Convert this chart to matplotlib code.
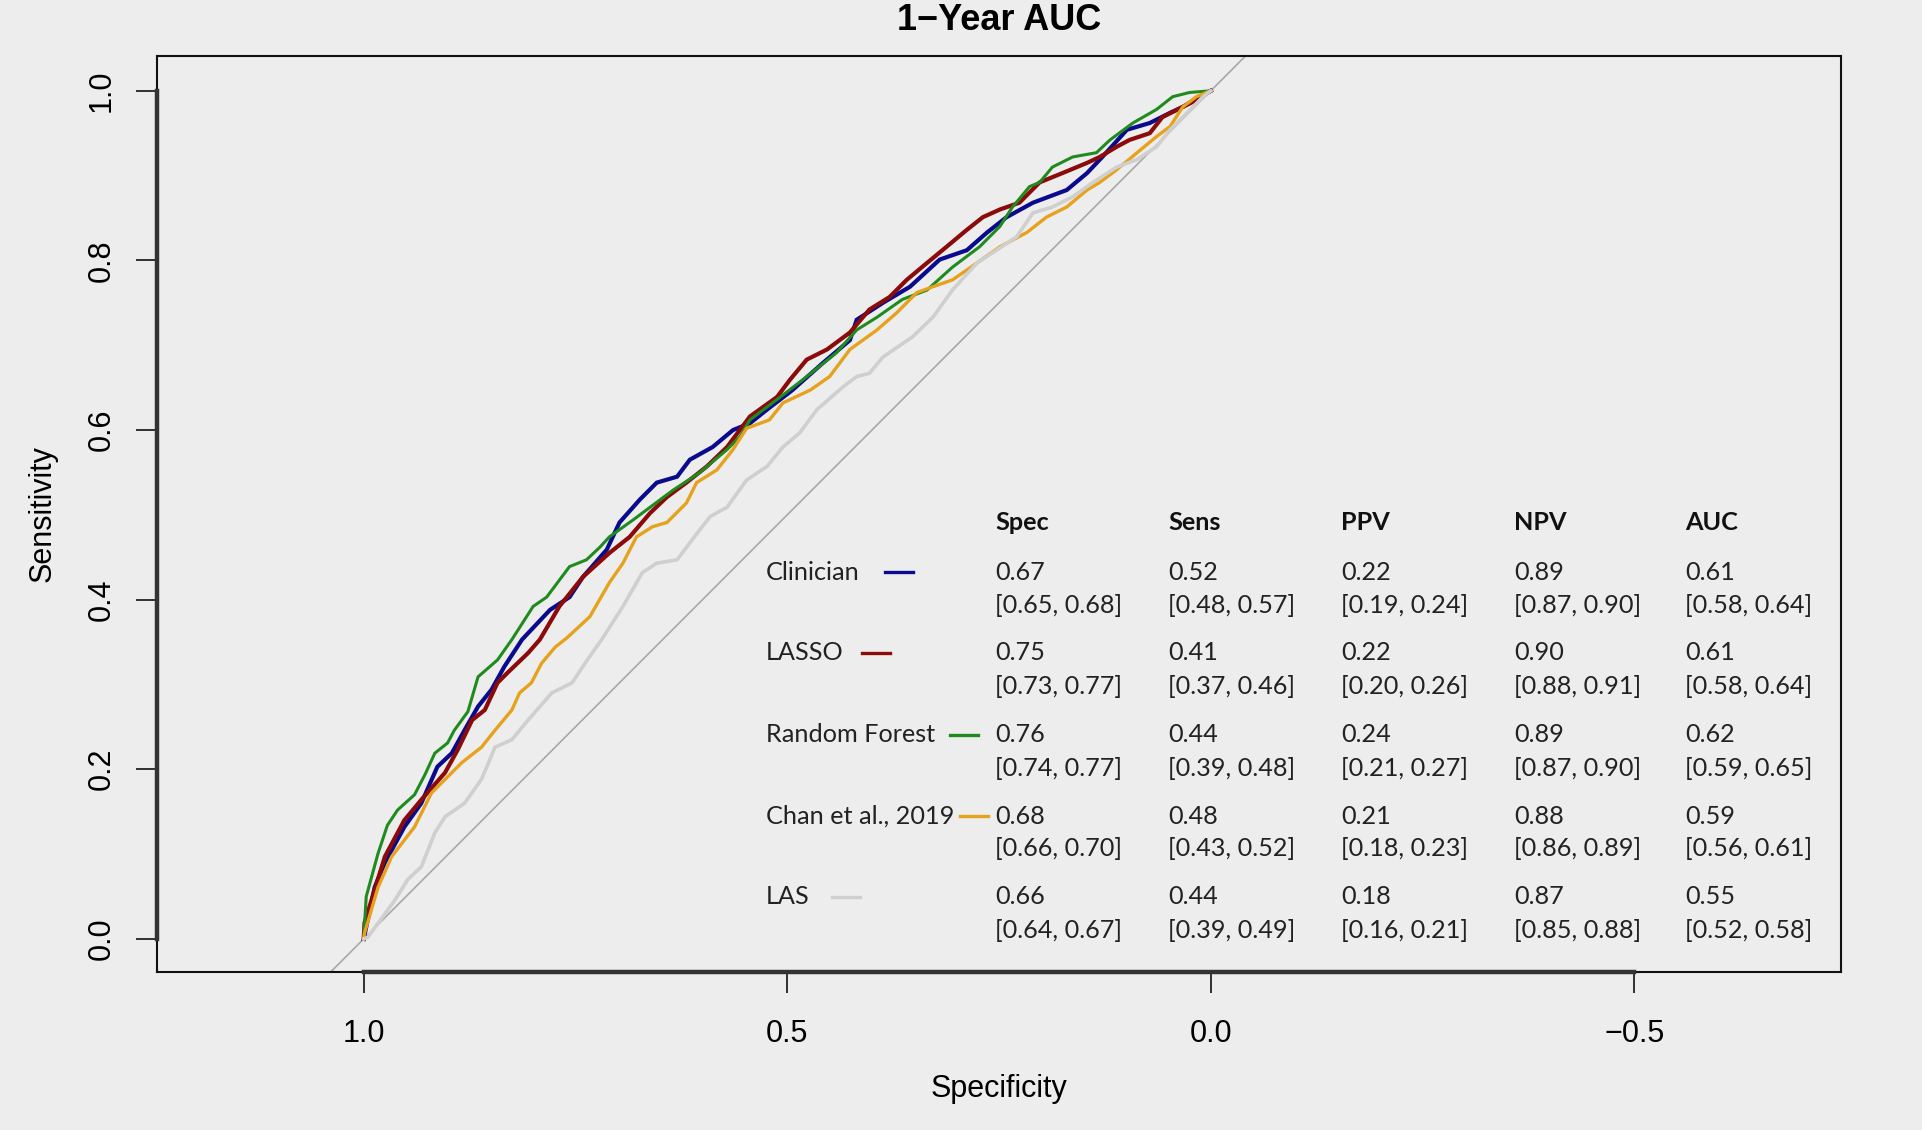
import matplotlib
matplotlib.use('Agg')
import matplotlib.pyplot as plt
from matplotlib.lines import Line2D

#######################################################
# ROC curves (specificity, sensitivity)
clin_spec = [1.000, 0.987, 0.975, 0.952, 0.932, 0.913, 0.896, 0.881, 0.865, 0.849, 0.834, 0.813, 0.780, 0.757, 0.741,
             0.713, 0.698, 0.674, 0.654, 0.630, 0.615, 0.588, 0.564, 0.544, 0.524, 0.494, 0.458, 0.426, 0.418, 0.387,
             0.355, 0.320, 0.288, 0.264, 0.241, 0.210, 0.170, 0.146, 0.128, 0.099, 0.072, 0.048, 0.033, 0.013, 0.000]
clin_sens = [0.000, 0.061, 0.090, 0.132, 0.160, 0.203, 0.219, 0.246, 0.274, 0.294, 0.321, 0.353, 0.388, 0.403, 0.427,
             0.459, 0.491, 0.518, 0.538, 0.545, 0.565, 0.580, 0.600, 0.608, 0.624, 0.647, 0.679, 0.706, 0.730, 0.750,
             0.769, 0.801, 0.812, 0.833, 0.851, 0.868, 0.883, 0.903, 0.922, 0.954, 0.962, 0.974, 0.981, 0.993, 1.000]

lasso_spec = [1.000, 0.999, 0.975, 0.952, 0.932, 0.904, 0.889, 0.872, 0.857, 0.842, 0.830, 0.806, 0.792, 0.769, 0.741,
              0.710, 0.686, 0.662, 0.642, 0.619, 0.595, 0.571, 0.544, 0.512, 0.497, 0.477, 0.453, 0.426, 0.403, 0.379,
              0.359, 0.335, 0.312, 0.288, 0.269, 0.249, 0.226, 0.202, 0.175, 0.146, 0.131, 0.111, 0.096, 0.072, 0.057,
              0.033, 0.017, 0.000]
lasso_sens = [0.000, 0.019, 0.097, 0.140, 0.164, 0.196, 0.223, 0.258, 0.270, 0.302, 0.314, 0.337, 0.353, 0.392, 0.427,
              0.455, 0.474, 0.502, 0.521, 0.538, 0.557, 0.580, 0.616, 0.639, 0.659, 0.683, 0.695, 0.715, 0.742, 0.757,
              0.777, 0.797, 0.816, 0.836, 0.851, 0.860, 0.868, 0.892, 0.903, 0.915, 0.922, 0.934, 0.942, 0.950, 0.969,
              0.981, 0.989, 1.000]

rf_spec = [1.000, 0.997, 0.983, 0.972, 0.960, 0.940, 0.928, 0.916, 0.901, 0.893, 0.877, 0.865, 0.842, 0.825, 0.800,
           0.784, 0.757, 0.737, 0.721, 0.710, 0.682, 0.635, 0.603, 0.571, 0.556, 0.544, 0.512, 0.482, 0.442, 0.418,
           0.394, 0.364, 0.335, 0.305, 0.273, 0.249, 0.234, 0.214, 0.202, 0.187, 0.163, 0.135, 0.119, 0.092, 0.064,
           0.045, 0.025, 0.000]
rf_sens = [0.000, 0.050, 0.101, 0.134, 0.152, 0.170, 0.193, 0.219, 0.231, 0.246, 0.268, 0.309, 0.329, 0.353, 0.392,
           0.403, 0.439, 0.447, 0.462, 0.474, 0.494, 0.529, 0.550, 0.577, 0.592, 0.612, 0.636, 0.659, 0.691, 0.718,
           0.733, 0.754, 0.765, 0.792, 0.816, 0.840, 0.863, 0.887, 0.892, 0.910, 0.922, 0.927, 0.942, 0.962, 0.978,
           0.993, 0.998, 1.000]

chan_spec = [1.000, 0.999, 0.983, 0.967, 0.940, 0.920, 0.904, 0.884, 0.861, 0.845, 0.825, 0.816, 0.802, 0.790, 0.774,
             0.760, 0.733, 0.710, 0.694, 0.678, 0.659, 0.642, 0.619, 0.607, 0.583, 0.564, 0.548, 0.521, 0.505, 0.473,
             0.450, 0.426, 0.394, 0.371, 0.347, 0.328, 0.305, 0.276, 0.249, 0.217, 0.194, 0.170, 0.146, 0.131, 0.111,
             0.087, 0.064, 0.048, 0.033, 0.017, 0.000]
chan_sens = [0.000, 0.007, 0.061, 0.097, 0.132, 0.172, 0.188, 0.208, 0.226, 0.246, 0.270, 0.290, 0.302, 0.325, 0.344,
             0.355, 0.380, 0.420, 0.443, 0.474, 0.486, 0.491, 0.514, 0.538, 0.553, 0.577, 0.602, 0.612, 0.632, 0.647,
             0.663, 0.695, 0.718, 0.738, 0.762, 0.769, 0.777, 0.797, 0.816, 0.833, 0.851, 0.863, 0.883, 0.892, 0.907,
             0.927, 0.946, 0.958, 0.981, 0.993, 1.000]

las_spec = [1.000, 0.995, 0.963, 0.948, 0.932, 0.916, 0.904, 0.881, 0.861, 0.845, 0.825, 0.806, 0.778, 0.754, 0.736,
            0.719, 0.694, 0.671, 0.654, 0.630, 0.612, 0.591, 0.571, 0.548, 0.524, 0.505, 0.485, 0.465, 0.434, 0.418,
            0.403, 0.387, 0.352, 0.328, 0.305, 0.276, 0.253, 0.229, 0.210, 0.187, 0.163, 0.139, 0.111, 0.087, 0.064,
            0.048, 0.033, 0.009, 0.000]
las_sens = [0.000, 0.002, 0.046, 0.070, 0.085, 0.125, 0.144, 0.160, 0.188, 0.226, 0.235, 0.258, 0.290, 0.302, 0.329,
            0.353, 0.392, 0.432, 0.443, 0.447, 0.471, 0.498, 0.509, 0.541, 0.557, 0.580, 0.597, 0.624, 0.651, 0.663,
            0.667, 0.686, 0.710, 0.733, 0.765, 0.797, 0.812, 0.828, 0.856, 0.863, 0.875, 0.892, 0.910, 0.919, 0.934,
            0.954, 0.969, 0.993, 1.000]

# table values: (estimate, lower, upper)
models = ['Clinician', 'LASSO', 'Random Forest', 'Chan et al., 2019', 'LAS']
spec_tab = [(0.67, 0.65, 0.68), (0.75, 0.73, 0.77), (0.76, 0.74, 0.77), (0.68, 0.66, 0.70), (0.66, 0.64, 0.67)]
sens_tab = [(0.52, 0.48, 0.57), (0.41, 0.37, 0.46), (0.44, 0.39, 0.48), (0.48, 0.43, 0.52), (0.44, 0.39, 0.49)]
ppv_tab = [(0.22, 0.19, 0.24), (0.22, 0.20, 0.26), (0.24, 0.21, 0.27), (0.21, 0.18, 0.23), (0.18, 0.16, 0.21)]
npv_tab = [(0.89, 0.87, 0.90), (0.90, 0.88, 0.91), (0.89, 0.87, 0.90), (0.88, 0.86, 0.89), (0.87, 0.85, 0.88)]
auc_tab = [(0.61, 0.58, 0.64), (0.61, 0.58, 0.64), (0.62, 0.59, 0.65), (0.59, 0.56, 0.61), (0.55, 0.52, 0.58)]
headers = ['Spec', 'Sens', 'PPV', 'NPV', 'AUC']

#######################################################
bg = '#ededed'
W, H = 1922, 1130

def fx(px):
    return px / W

def fy(py):
    return 1 - py / H

fig = plt.figure(figsize=(W / 100, H / 100), dpi=100, facecolor=bg)
ax = fig.add_axes([fx(157), fy(972), 1684 / W, 916 / H])
ax.set_facecolor(bg)
ax.set_xlim(1.244, -0.744)
ax.set_ylim(-0.039, 1.041)

ax.axline((1, 0), (0, 1), color='#a8a8a8', lw=1.2, zorder=1)

curves = [(clin_spec, clin_sens, '#0a0a8c', 3.0),
          (lasso_spec, lasso_sens, '#8b0a0a', 3.0),
          (rf_spec, rf_sens, '#1f8b1f', 2.2),
          (chan_spec, chan_sens, '#e6a21c', 2.4),
          (las_spec, las_sens, '#cfcfcf', 2.6)]
for sp, se, col, lw in curves:
    ax.plot(sp, se, color=col, lw=lw, solid_joinstyle='miter', zorder=2)

tickfont = ['Liberation Sans', 'DejaVu Sans']
for s in ax.spines.values():
    s.set_color('#111111')
    s.set_linewidth(1.5)
ax.set_xticks([1.0, 0.5, 0.0, -0.5])
ax.set_xticklabels(['1.0', '0.5', '0.0', '\u22120.5'])
ax.set_yticks([0.0, 0.2, 0.4, 0.6, 0.8, 1.0])
ax.set_yticklabels(['0.0', '0.2', '0.4', '0.6', '0.8', '1.0'], rotation=90, va='center')
ax.tick_params(axis='both', length=15, width=1.2, color='#111111', labelsize=22)
ax.tick_params(axis='x', pad=19)
ax.tick_params(axis='y', pad=14)
for lab in ax.get_xticklabels() + ax.get_yticklabels():
    lab.set_family(tickfont)
# axis lines over the tick range
ax.plot([1.0, -0.5], [-0.039, -0.039], color='#333333', lw=3.2, clip_on=False, zorder=3)
ax.plot([1.244, 1.244], [0.0, 1.0], color='#333333', lw=3.2, clip_on=False, zorder=3)

fig.text(fx(999), fy(20), '1\u2212Year AUC', ha='center', va='center', fontsize=26,
         fontweight='bold', family=tickfont)
fig.text(fx(999), fy(1089), 'Specificity', ha='center', va='center', fontsize=22, family=tickfont)
fig.text(fx(43), fy(514), 'Sensitivity', ha='center', va='center', rotation=90, fontsize=22, family=tickfont)

# table with the summary statistics
tabfont = ['Lato', 'DejaVu Sans']
col_x = [995, 1168, 1341, 1514, 1685]
row_y = [572, 653, 735, 816, 897]
ci_dy = 33
key_x = [885, 862, 950, 960, 832]
cols = [spec_tab, sens_tab, ppv_tab, npv_tab, auc_tab]
fs = 18.2

for h, cx in zip(headers, col_x):
    fig.text(fx(cx), fy(523), h, ha='left', va='center', fontsize=fs, fontweight='bold',
             family=tabfont, color='#111111')

for i, name in enumerate(models):
    ry = row_y[i]
    fig.text(fx(766), fy(ry), name, ha='left', va='center', fontsize=fs, family=tabfont, color='#222222')
    fig.add_artist(Line2D([fx(key_x[i]), fx(key_x[i] + 28)], [fy(ry), fy(ry)], transform=fig.transFigure,
                          color=curves[i][2], lw=2.4))
    for tab, cx in zip(cols, col_x):
        est, lo, hi = tab[i]
        fig.text(fx(cx), fy(ry), '%.2f' % est, ha='left', va='center', fontsize=fs,
                 family=tabfont, color='#222222')
        fig.text(fx(cx), fy(ry + ci_dy), '[%.2f, %.2f]' % (lo, hi), ha='left', va='center',
                 fontsize=fs, family=tabfont, color='#222222')

plt.savefig('out.png', dpi=100, facecolor=bg)
